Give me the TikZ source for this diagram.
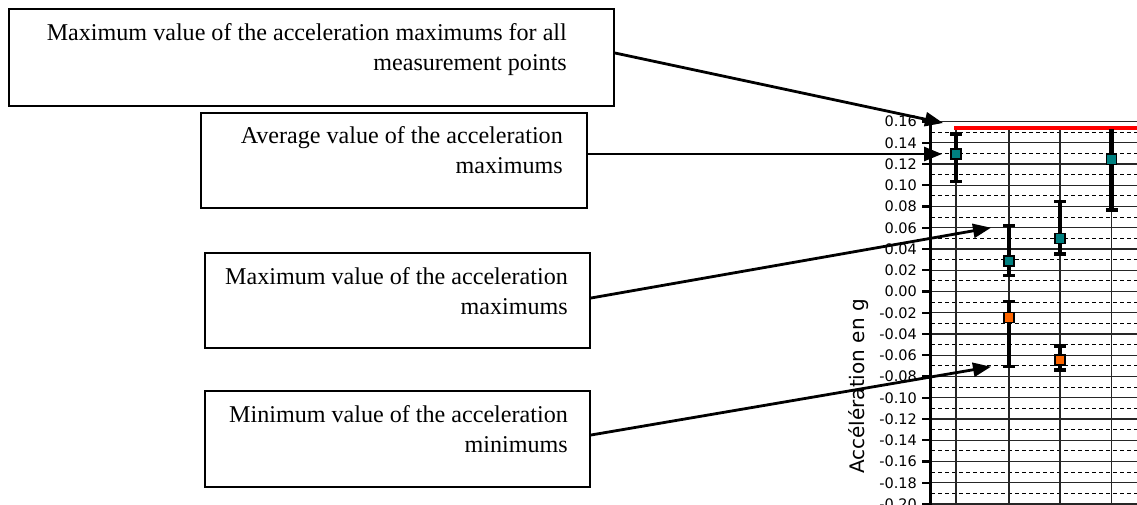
\documentclass[tikz,border=0pt]{standalone}
\usepackage{fontspec}
\setmainfont{Liberation Serif}
\newfontfamily\chartfont{DejaVu Sans}
\usetikzlibrary{arrows.meta}
\definecolor{markteal}{HTML}{008080}
\definecolor{markorange}{HTML}{FF6600}
\tikzset{
  box/.style={draw=black, line width=2pt, rectangle, anchor=north west, inner sep=0pt},
  boxtext/.style={anchor=base east, align=right, inner sep=0pt, font=\fontsize{24.1}{30}\selectfont},
  arr/.style={line width=2.8pt, -{Triangle[length=18pt,width=14pt]}},
  gridsolid/.style={line width=1.3pt, black!85},
  griddash/.style={line width=1.2pt, black, dash pattern=on 4pt off 3pt},
  errbar/.style={line width=4pt, black},
  errcap/.style={line width=3.5pt, black},
  tmark/.style={draw=black, line width=1.2pt, fill=markteal, minimum size=10pt, inner sep=0pt},
  omark/.style={draw=black, line width=1.2pt, fill=markorange, minimum size=10pt, inner sep=0pt},
  ticklab/.style={anchor=east, inner sep=0pt, font=\chartfont\fontsize{14.5}{14.5}\selectfont},
}
\begin{document}
\begin{tikzpicture}[x=1pt,y=-1pt]
\useasboundingbox (0,0) rectangle (1137,504);
% ---- chart grid ----
\foreach \k in {0,...,17} {
  \draw[griddash] (931,{121.5+\k*21.25+10.625}) -- (1137,{121.5+\k*21.25+10.625});
}
\foreach \k in {0,...,18} {
  \draw[gridsolid] (931,{121.5+\k*21.25}) -- (1137,{121.5+\k*21.25});
}
\foreach \xx in {956,1009,1060,1111.5} {
  \draw[gridsolid] (\xx,128) -- (\xx,504);
}
% red line
\draw[line width=4.5pt, red] (954,128) -- (1137,128);
% axis
\draw[line width=3.5pt, black] (930.5,121.5) -- (930.5,506);
\foreach \k in {0,...,18} {
  \draw[line width=2.2pt] (922,{121.5+\k*21.25}) -- (931,{121.5+\k*21.25});
}
\foreach \k/\lab in {0/0.16,1/0.14,2/0.12,3/0.10,4/0.08,5/0.06,6/0.04,7/0.02,8/0.00,9/-0.02,10/-0.04,11/-0.06,12/-0.08,13/-0.10,14/-0.12,15/-0.14,16/-0.16,17/-0.18,18/-0.20} {
  \node[ticklab] (tl\k) at (917,{121.5+\k*21.25}) {\lab};
}
\node[rotate=90, inner sep=0pt, font=\chartfont\fontsize{20}{20}\selectfont] (ytitle) at (859,386.5) {Accélération en g};
% ---- error bars ----
\draw[errbar] (956,134) -- (956,181.7);
\draw[errcap] (950,134) -- (962,134); \draw[errcap] (950,181.7) -- (962,181.7);
\draw[errbar] (1009,225.7) -- (1009,275.3);
\draw[errcap] (1003,225.7) -- (1015,225.7); \draw[errcap] (1003,275.3) -- (1015,275.3);
\draw[errbar] (1009,301.7) -- (1009,366.7);
\draw[errcap] (1003,301.7) -- (1015,301.7); \draw[errcap] (1003,366.7) -- (1015,366.7);
\draw[errbar] (1060,201.7) -- (1060,254);
\draw[errcap] (1054,201.7) -- (1066,201.7); \draw[errcap] (1054,254) -- (1066,254);
\draw[errbar] (1060,346) -- (1060,370);
\draw[errcap] (1054,346) -- (1066,346); \draw[errcap] (1054,370) -- (1066,370);
\draw[line width=4.5pt] (1111.5,129) -- (1111.5,210);
\draw[errcap] (1105.5,210) -- (1117.5,210);
% markers
\node[tmark] (m1) at (956,154) {};
\node[tmark] (m2) at (1009,261) {};
\node[omark] (m3) at (1009,317.3) {};
\node[tmark] (m4) at (1060,238.3) {};
\node[omark] (m5) at (1060,360) {};
\node[tmark] (m6) at (1111.5,159.3) {};
% ---- boxes ----
\node[box, minimum width=605pt, minimum height=97pt, fill=white] (b1) at (8,8) {};
\node[boxtext] (t1) at (567,70.7) {Maximum value of the acceleration maximums for all\\measurement points};
\node[box, minimum width=386pt, minimum height=95pt, fill=white] (b2) at (200,112) {};
\node[boxtext] (t2) at (563,173.3) {Average value of the acceleration\\maximums};
\node[box, minimum width=385pt, minimum height=95pt, fill=white] (b3) at (204,252) {};
\node[boxtext] (t3) at (568,314) {Maximum value of the acceleration\\maximums};
\node[box, minimum width=385pt, minimum height=96pt, fill=white] (b4) at (204,390) {};
\node[boxtext] (t4) at (568,452) {Minimum value of the acceleration\\minimums};
% ---- arrows ----
\coordinate (p1) at (943,123);
\coordinate (p2) at (942,154);
\coordinate (p3) at (991,227.7);
\coordinate (p4) at (991,366.7);
\draw[arr] ([yshift=4.5pt]b1.east) -- (p1);
\draw[arr] ([yshift=6.5pt]b2.east) -- (p2);
\draw[arr] ([yshift=2.5pt]b3.east) -- (p3);
\draw[arr] ([yshift=4pt]b4.east) -- (p4);
\end{tikzpicture}
\end{document}
